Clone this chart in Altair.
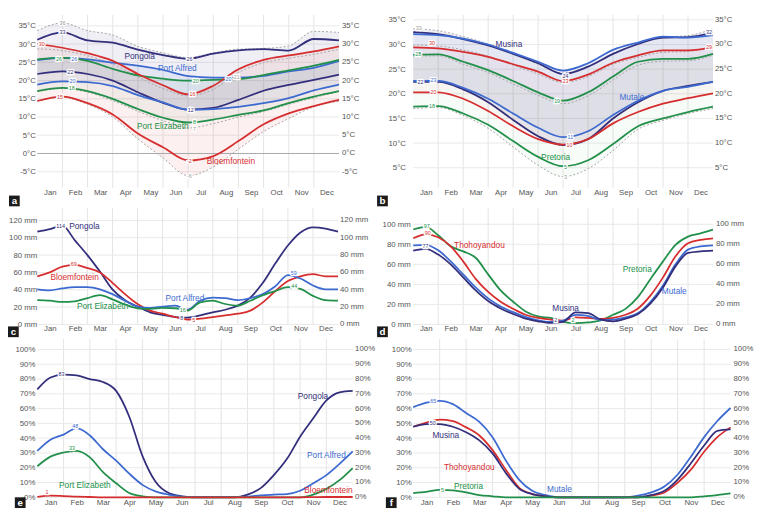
import altair as alt
import pandas as pd

FONT = "Liberation Sans"
MONTHS = ["Jan", "Feb", "Mar", "Apr", "May", "Jun", "Jul", "Aug", "Sep", "Oct", "Nov", "Dec"]
T13 = list(range(13))
T25 = [i / 2 for i in range(25)]

NAVY, BLUE, GREEN, RED, REF = "#332f7c", "#3d6ad0", "#22904a", "#d62e2f", "#9a9a9a"

# ---------------- panel a : temperature (°C), month boundaries 0..12
A_PONG_MAX = [31.2, 33.2, 31.0, 30.4, 28.5, 27.0, 26.0, 27.4, 28.3, 28.6, 28.2, 31.4, 31.0]
A_PONG_MIN = [21.8, 22.5, 21.8, 20.0, 16.8, 13.9, 12.0, 12.5, 14.7, 17.2, 18.8, 20.2, 21.6]
A_PA_MAX = [25.6, 26.2, 25.8, 24.9, 24.1, 22.9, 21.2, 20.8, 20.8, 21.3, 22.5, 23.5, 25.4]
A_PA_MIN = [18.9, 19.8, 19.6, 18.5, 16.0, 14.0, 12.0, 12.2, 12.8, 13.8, 15.2, 17.3, 18.9]
A_PE_MAX = [25.8, 26.2, 25.4, 23.2, 21.4, 20.5, 20.0, 20.2, 20.4, 21.5, 22.8, 24.1, 25.7]
A_PE_MIN = [17.1, 18.0, 17.1, 15.0, 12.2, 9.8, 8.5, 9.3, 10.6, 11.8, 13.8, 15.6, 17.1]
A_BL_MAX = [30.1, 29.0, 27.5, 25.4, 21.8, 18.7, 16.2, 18.6, 23.1, 25.7, 26.9, 28.0, 29.4]
A_BL_MIN = [14.4, 15.6, 13.8, 10.7, 5.5, 1.7, -1.9, -0.7, 3.4, 8.0, 11.0, 13.0, 14.7]
A_PONG_HI = [33.7, 35.8, 33.7, 32.5, 29.4, 27.6, 26.3, 27.6, 28.6, 28.8, 29.5, 33.5, 33.2]
A_BL_MAXD = [28.7, 28.2, 26.8, 24.5, 21.0, 17.8, 15.8, 17.6, 22.2, 24.9, 26.1, 27.2, 28.6]
A_PE_LO = [17.0, 17.8, 16.8, 14.5, 11.6, 9.0, 7.0, 8.2, 10.0, 11.5, 13.5, 15.3, 17.0]
A_BL_LO = [14.4, 15.4, 13.5, 10.0, 4.0, -1.2, -6.1, -3.7, 1.2, 6.0, 9.6, 12.8, 14.3]
A_NUMS = [
    (1.0, 35.9, "36", "ref"), (1.0, 33.2, "33", "Pongola"), (0.18, 30.0, "30", "Bloemfontein"),
    (0.86, 26.0, "26", "Port Elizabeth"), (1.47, 26.0, "26", "Port Alfred"), (1.32, 22.4, "22", "Pongola"),
    (1.4, 19.8, "20", "Port Alfred"), (1.37, 18.0, "18", "Port Elizabeth"), (0.9, 15.6, "15", "Bloemfontein"),
    (6.05, 26.0, "26", "Pongola"), (6.3, 20.0, "20", "Port Elizabeth"), (6.17, 16.2, "16", "Bloemfontein"),
    (6.1, 12.0, "12", "Pongola"), (6.25, 8.6, "8", "Port Elizabeth"), (6.25, 6.8, "7", "ref"),
    (6.05, -2.0, "-2", "Bloemfontein"), (6.05, -6.2, "-6", "ref"), (7.6, 20.5, "20", "Port Alfred"),
    (7.93, 20.9, "21", "ref"),
]
A_NAMES = [
    (4.07, 26.7, "Pongola", "Pongola"), (5.57, 23.5, "Port Alfred", "Port Alfred"),
    (4.99, 7.5, "Port Elizabeth", "Port Elizabeth"), (7.7, -2.1, "Bloemfontein", "Bloemfontein"),
]

# ---------------- panel b : temperature (°C)
B_MUS_MAX = [32.5, 32.1, 31.1, 29.8, 28.1, 26.2, 24.0, 25.5, 28.1, 30.1, 31.4, 31.5, 32.4]
B_MUT_MAX = [32.1, 31.9, 31.2, 30.0, 28.3, 26.5, 24.7, 26.2, 28.9, 30.4, 31.6, 31.4, 31.9]
B_THO_MAX = [29.4, 29.2, 28.5, 27.5, 26.0, 24.5, 22.6, 23.9, 26.3, 27.8, 28.8, 28.8, 29.4]
B_PRE_MAX = [27.9, 28.0, 26.5, 24.8, 22.6, 20.3, 18.6, 20.3, 23.5, 26.5, 27.1, 27.1, 28.1]
B_MUS_MIN = [22.4, 22.4, 20.9, 18.3, 14.7, 11.4, 9.6, 10.8, 15.0, 18.3, 20.6, 21.6, 22.4]
B_MUT_MIN = [22.6, 22.6, 21.2, 19.0, 16.0, 13.1, 11.2, 12.4, 15.7, 18.6, 20.6, 21.4, 22.4]
B_THO_MIN = [20.3, 20.3, 19.0, 16.5, 13.4, 10.8, 9.7, 10.8, 14.0, 16.3, 18.0, 19.1, 20.1]
B_PRE_MIN = [17.4, 17.5, 16.0, 13.7, 10.4, 7.2, 5.3, 6.5, 9.8, 13.4, 15.0, 16.3, 17.4]
B_MUS_HI = [33.2, 32.8, 31.6, 30.1, 28.2, 26.0, 24.2, 25.6, 28.2, 30.2, 31.5, 31.8, 33.2]
B_THO_MAXD = [29.9, 29.7, 28.9, 27.6, 25.8, 24.0, 22.3, 23.5, 26.0, 27.4, 28.4, 28.6, 29.6]
B_PRE_MAXD = [27.6, 27.7, 26.0, 24.3, 22.0, 19.7, 18.0, 19.6, 22.8, 25.8, 26.6, 26.7, 27.8]
B_PRE_LO = [17.0, 17.2, 15.6, 13.0, 9.2, 5.5, 3.2, 4.8, 8.5, 12.8, 14.6, 16.0, 17.0]
B_NUMS = [
    (0.22, 33.3, "33", "ref"), (11.84, 32.6, "32", "Musina"), (0.75, 30.3, "30", "Thohoyandou"),
    (11.84, 29.5, "29", "Thohoyandou"), (0.2, 28.0, "28", "Pretoria"), (0.29, 22.4, "22", "Musina"),
    (0.81, 22.8, "23", "Mutale"), (0.81, 20.4, "20", "Thohoyandou"), (0.75, 17.6, "18", "Pretoria"),
    (6.1, 23.7, "24", "Musina"), (6.1, 22.5, "23", "Thohoyandou"), (5.76, 18.5, "19", "Pretoria"),
    (6.29, 11.2, "11", "Mutale"), (6.26, 9.6, "10", "Thohoyandou"), (6.1, 5.2, "5", "Pretoria"),
    (6.1, 3.1, "3", "ref"),
]
B_NAMES = [(3.83, 30.1, "Musina", "Musina"), (8.75, 19.3, "Mutale", "Mutale"), (5.7, 7.2, "Pretoria", "Pretoria")]

# ---------------- panel c : precipitation (mm), half-month steps
C_PONG = [107, 110, 114, 97, 80, 61, 40.5, 28, 20.6, 14, 11, 8.6, 8, 10.5, 14, 17, 21.7, 31, 48, 70.5, 91, 106, 112, 110.6, 107]
C_BLOEM = [55.5, 60, 66.7, 68.6, 65, 60, 48, 35, 23.6, 16, 12.4, 8.6, 5.6, 6.7, 8.6, 10.5, 12.4, 16, 25.5, 38.6, 50, 55.5, 58, 55.5, 55.5]
C_PA = [40.5, 39.4, 41.6, 43, 43, 40.5, 35, 27.4, 20.6, 19, 20.6, 21.7, 17, 27.4, 31, 30.4, 28, 30.4, 35, 44, 57, 53, 45, 40.5, 40.5]
C_PE = [28, 27.4, 26, 26.6, 30.4, 33.7, 29, 23, 18.7, 18, 19, 18.7, 16, 25.5, 27.4, 23.6, 21.7, 27.4, 33.7, 38.6, 43, 41, 33, 28, 27.4]
C_NUMS = [
    (0.93, 113.5, "114", "Pongola"), (1.45, 69.5, "69", "Bloemfontein"), (10.23, 59, "59", "Port Alfred"),
    (10.25, 44, "44", "Port Elizabeth"), (5.8, 16.9, "16", "Port Elizabeth"), (5.76, 7.9, "8", "Pongola"),
    (6.24, 4.9, "5", "Bloemfontein"),
]
C_NAMES = [
    (1.88, 112.9, "Pongola", "Pongola"), (1.49, 54.4, "Bloemfontein", "Bloemfontein"),
    (5.89, 30, "Port Alfred", "Port Alfred"), (2.61, 21.7, "Port Elizabeth", "Port Elizabeth"),
]

# ---------------- panel d : precipitation (mm)
D_PRE = [94.8, 97.4, 89, 78, 73, 66.6, 50, 34, 22.7, 13, 8, 6.5, 2.6, 1.3, 2, 4, 9.7, 15.6, 27.6, 45.5, 63, 79.5, 87.7, 91, 94.8]
D_THO = [86, 90, 87, 78, 63, 45.5, 32.5, 22.7, 15.6, 9.7, 6.5, 4.9, 3.9, 7.1, 6.5, 5.5, 6.5, 9.7, 16, 29, 47, 68, 81, 84.4, 86]
D_MUT = [79, 79.5, 74, 63, 50, 37, 26, 17.9, 12.3, 7.5, 4.2, 2.6, 3.9, 9.5, 8.5, 4.5, 4.9, 7.1, 11.4, 22.7, 39, 60, 74.7, 78, 79]
D_MUS = [73.7, 75.5, 69.8, 60, 47, 34, 23.4, 16, 10.4, 5.8, 3.2, 1.6, 2.6, 12, 11.4, 5, 3.2, 5.8, 10.4, 21, 37, 58, 71.4, 73, 73.7]
D_NUMS = [
    (0.54, 98, "97", "Pretoria"), (0.58, 91, "90", "Thohoyandou"), (0.49, 78, "77", "Musina"),
    (5.7, 4.9, "2", "Musina"), (6.4, 4.2, "2", "Pretoria"),
]
D_NAMES = [
    (2.65, 78.9, "Thohoyandou", "Thohoyandou"), (8.97, 55.2, "Pretoria", "Pretoria"),
    (10.45, 33.1, "Mutale", "Mutale"), (6.1, 16.2, "Musina", "Musina"),
]

# ---------------- panel e : share of days (%)
E_PONG = [73, 81, 83, 82.4, 80, 78, 72, 54.5, 28, 10.5, 2.9, 0.7, 0, 0, 0, 0, 1.8, 6.2, 15, 26, 41, 53.4, 65.5, 71, 72]
E_PA = [31.4, 39, 42.4, 46.8, 41.8, 32.5, 24.8, 16, 8.4, 4, 1.8, 0.4, 0.2, 0.2, 0.2, 0.2, 0.4, 1.3, 1.8, 2.2, 4.4, 9.5, 15, 22.6, 31]
E_PE = [21, 27.5, 30.3, 31.4, 27, 17, 9.5, 2.9, 0.7, 0, 0, 0, 0, 0, 0, 0, 0, 0, 0, 0, 0, 1.8, 5.7, 11.6, 19.8]
E_BL = [0.3, 1.1, 0.8, 0.4, 0.2, 0, 0, 0, 0, 0, 0, 0, 0, 0, 0, 0, 0, 0, 0, 0, 0, 0.1, 0.2, 0.2, 0.2]
E_NUMS = [
    (0.92, 83.5, "83", "Pongola"), (1.44, 48, "48", "Port Alfred"), (1.32, 33, "33", "Port Elizabeth"),
    (0.37, 3.3, "1", "Bloemfontein"),
]
E_NAMES = [
    (10.49, 68.4, "Pongola", "Pongola"), (11.0, 28.6, "Port Alfred", "Port Alfred"),
    (1.81, 8.4, "Port Elizabeth", "Port Elizabeth"), (11.08, 5.1, "Bloemfontein", "Bloemfontein"),
]

# ---------------- panel f : share of days (%)
F_MUT = [61, 64, 65.3, 63, 57, 51, 40.7, 25, 12, 4.4, 1.5, 0, 0, 0, 0, 0, 0, 1.1, 3.3, 7.3, 15.4, 27.5, 40.7, 51.6, 60.4]
F_THO = [47.7, 50.5, 52.5, 51.6, 47.3, 41.8, 31.9, 18.7, 6.6, 2.2, 0.7, 0, 0, 0, 0, 0, 0, 0, 1.1, 3.3, 9.9, 18.7, 30.8, 40.7, 47.3]
F_MUS = [47.7, 49.5, 49.5, 47.7, 44, 38.5, 29.7, 16.5, 5.9, 2.2, 0.7, 0, 0, 0, 0, 0, 0, 0, 1.5, 4.4, 12, 23, 35, 45, 46]
F_PRE = [2.9, 3.7, 5, 4.6, 3.3, 1.5, 0.7, 0, 0, 0, 0, 0, 0, 0, 0, 0, 0, 0, 0, 0, 0, 0, 0.7, 1.5, 2.6]
F_NUMS = [(0.76, 65.3, "65", "Mutale"), (0.74, 49.9, "50", "Musina"), (1.11, 5.1, "5", "Pretoria")]
F_NAMES = [
    (1.23, 41.8, "Musina", "Musina"), (2.12, 20.4, "Thohoyandou", "Thohoyandou"),
    (2.09, 7.3, "Pretoria", "Pretoria"), (5.53, 5.5, "Mutale", "Mutale"),
]

SOUTH = ["Pongola", "Port Alfred", "Port Elizabeth", "Bloemfontein"]
SOUTH_COL = [NAVY, BLUE, GREEN, RED]
NORTH = ["Musina", "Mutale", "Thohoyandou", "Pretoria"]
NORTH_COL = [NAVY, BLUE, RED, GREEN]

MONTH_EXPR = "[" + ",".join("'%s'" % m for m in MONTHS) + "][floor(datum.value)]"


def panel(letter, t, solid, dotted, bands, nums, names, stations, colours, ydom, yticks, suffix,
          W, H, L, B, xpad, lpad, rpad, box_y, zero=False):
    xs = alt.Scale(domain=[0, 12], nice=False, zero=False)
    ys = alt.Scale(domain=ydom, nice=False, zero=False)
    cs = alt.Scale(domain=stations + ["ref"], range=colours + [REF])
    common = dict(grid=False, ticks=False, tickSize=0, domain=False, title=None, labelFlush=False,
                  labelFont=FONT, labelFontSize=8, labelColor="#555555")
    xaxis = alt.Axis(orient="bottom", values=[i + 0.5 for i in range(12)], labelExpr=MONTH_EXPR,
                     labelPadding=xpad, minExtent=B, maxExtent=B, labelAngle=0, **common)
    yexpr = "datum.value + '%s'" % suffix
    laxis = alt.Axis(orient="left", values=yticks, labelExpr=yexpr, labelPadding=lpad,
                     minExtent=L, maxExtent=L, **common)

    def X():
        return alt.X("t:Q", scale=xs, axis=xaxis)

    def Y(f="v"):
        return alt.Y(f + ":Q", scale=ys, axis=laxis)

    C = alt.Color("station:N", scale=cs, legend=None)

    layers = []
    layers.append(alt.Chart(pd.DataFrame({"t": T13[1:12]})).mark_rule(color="#e3e3e3", strokeWidth=1)
                  .encode(x=X()))
    hdf = pd.DataFrame({"v": yticks, "lab": [str(v) + suffix for v in yticks]})
    layers.append(alt.Chart(hdf).mark_rule(color="#e8e8e8", strokeWidth=1).encode(y=Y()))
    # right-hand copy of the value labels, placed by the same y scale
    layers.append(alt.Chart(hdf).mark_text(align="left", baseline="middle", fontSize=8, font=FONT,
                                           color="#555555")
                  .encode(y=Y(), x=alt.value(W + rpad), text="lab:N"))

    if bands:
        rows = []
        for station, hi, lo, op in bands:
            for ti, h, l in zip(t, hi, lo):
                rows.append(dict(t=ti, hi=h, lo=l, station=station, op=op))
        layers.append(alt.Chart(pd.DataFrame(rows)).mark_area(interpolate="monotone").encode(
            x=X(), y=Y("hi"), y2="lo:Q", color=C, detail="station:N",
            opacity=alt.Opacity("op:Q", scale=None)))
    if zero:
        layers.append(alt.Chart(pd.DataFrame({"v": [0]})).mark_rule(color="#a8a8a8", strokeWidth=1)
                      .encode(y=Y()))
    if dotted:
        rows = []
        for name, vals in dotted:
            for ti, v in zip(t, vals):
                rows.append(dict(t=ti, v=v, series=name))
        layers.append(alt.Chart(pd.DataFrame(rows)).mark_line(
            strokeWidth=1, strokeDash=[2, 2], color="#a5a5a5", interpolate="monotone").encode(
            x=X(), y=Y(), detail="series:N"))
    rows = []
    for station, kind, vals in solid:
        for ti, v in zip(t, vals):
            rows.append(dict(t=ti, v=v, station=station, series=station + kind))
    layers.append(alt.Chart(pd.DataFrame(rows)).mark_line(strokeWidth=1.8, interpolate="monotone").encode(
        x=X(), y=Y(), color=C, detail="series:N"))

    ndf = pd.DataFrame([dict(t=a, v=b, text=c, station=d) for a, b, c, d in nums])
    layers.append(alt.Chart(ndf).mark_text(fontSize=5.5, font=FONT, stroke="white", strokeWidth=2.5,
                                           fill="white").encode(x=X(), y=Y(), text="text:N"))
    layers.append(alt.Chart(ndf).mark_text(fontSize=5.5, font=FONT).encode(
        x=X(), y=Y(), text="text:N", color=C))
    mdf = pd.DataFrame([dict(t=a, v=b, text=c, station=d) for a, b, c, d in names])
    layers.append(alt.Chart(mdf).mark_text(fontSize=8.5, font=FONT).encode(
        x=X(), y=Y(), text="text:N", color=C))

    ldf = pd.DataFrame({"letter": [letter]})
    layers.append(alt.Chart(ldf).mark_rect(color="#1b1b1b").encode(
        x=alt.value(-L), x2=alt.value(-L + 11), y=alt.value(box_y), y2=alt.value(box_y + 11)))
    layers.append(alt.Chart(ldf).mark_text(color="white", fontSize=10, fontWeight="bold", font=FONT).encode(
        x=alt.value(-L + 5.5), y=alt.value(box_y + 6), text="letter:N"))

    return alt.layer(*layers).properties(width=W, height=H)


H1, H2, H3 = 177, 119, 162

pa = panel("a", T13,
           [("Pongola", "max", A_PONG_MAX), ("Pongola", "min", A_PONG_MIN),
            ("Port Alfred", "max", A_PA_MAX), ("Port Alfred", "min", A_PA_MIN),
            ("Port Elizabeth", "max", A_PE_MAX), ("Port Elizabeth", "min", A_PE_MIN),
            ("Bloemfontein", "max", A_BL_MAX), ("Bloemfontein", "min", A_BL_MIN)],
           [("pong_hi", A_PONG_HI), ("bl_maxd", A_BL_MAXD), ("pe_lo", A_PE_LO), ("bl_lo", A_BL_LO)],
           [("Pongola", A_PONG_HI, A_PONG_MIN, 0.08), ("Port Alfred", A_PA_MAX, A_PA_MIN, 0.07),
            ("Port Elizabeth", A_PE_MAX, A_PE_MIN, 0.05), ("Bloemfontein", A_BL_MAX, A_BL_LO, 0.07)],
           A_NUMS, A_NAMES, SOUTH, SOUTH_COL, [-9.4, 38], [-5, 0, 5, 10, 15, 20, 25, 30, 35], "°C",
           W=309, H=H1, L=29, B=20, xpad=0.5, lpad=2, rpad=3, box_y=H1 + 8, zero=True)

pb = panel("b", T13,
           [("Musina", "max", B_MUS_MAX), ("Musina", "min", B_MUS_MIN),
            ("Mutale", "max", B_MUT_MAX), ("Mutale", "min", B_MUT_MIN),
            ("Thohoyandou", "max", B_THO_MAX), ("Thohoyandou", "min", B_THO_MIN),
            ("Pretoria", "max", B_PRE_MAX), ("Pretoria", "min", B_PRE_MIN)],
           [("mus_hi", B_MUS_HI), ("tho_maxd", B_THO_MAXD), ("pre_maxd", B_PRE_MAXD), ("pre_lo", B_PRE_LO)],
           [("Musina", B_MUS_HI, B_MUS_MIN, 0.08), ("Mutale", B_MUT_MAX, B_MUT_MIN, 0.05),
            ("Thohoyandou", B_THO_MAX, B_THO_MIN, 0.03), ("Pretoria", B_PRE_MAX, B_PRE_LO, 0.03)],
           B_NUMS, B_NAMES, NORTH, NORTH_COL, [0.93, 36.0], [5, 10, 15, 20, 25, 30, 35], "°C",
           W=307, H=H1, L=37, B=20, xpad=0.5, lpad=8, rpad=2, box_y=H1 + 8)

pc = panel("c", T25,
           [("Pongola", "p", C_PONG), ("Bloemfontein", "p", C_BLOEM),
            ("Port Alfred", "p", C_PA), ("Port Elizabeth", "p", C_PE)],
           [], [], C_NUMS, C_NAMES, SOUTH, SOUTH_COL, [0, 134], [0, 20, 40, 60, 80, 100, 120], " mm",
           W=308, H=H2, L=30, B=14, xpad=0, lpad=0.5, rpad=2, box_y=H2 + 2)

pd_ = panel("d", T25,
            [("Pretoria", "p", D_PRE), ("Thohoyandou", "p", D_THO),
             ("Mutale", "p", D_MUT), ("Musina", "p", D_MUS)],
            [], [], D_NUMS, D_NAMES, NORTH, NORTH_COL, [0, 116], [0, 20, 40, 60, 80, 100], " mm",
            W=307, H=H2, L=37, B=14, xpad=0, lpad=3, rpad=3, box_y=H2 + 2)

pe = panel("e", T25,
           [("Pongola", "p", E_PONG), ("Port Alfred", "p", E_PA),
            ("Port Elizabeth", "p", E_PE), ("Bloemfontein", "p", E_BL)],
           [], [], E_NUMS, E_NAMES, SOUTH, SOUTH_COL, [0, 107], list(range(0, 101, 10)), "%",
           W=323, H=H3, L=23, B=11, xpad=1, lpad=2.5, rpad=2.5, box_y=H3)

pf = panel("f", T25,
           [("Mutale", "p", F_MUT), ("Thohoyandou", "p", F_THO),
            ("Musina", "p", F_MUS), ("Pretoria", "p", F_PRE)],
           [], [], F_NUMS, F_NAMES, NORTH, NORTH_COL, [0, 107], list(range(0, 101, 10)), "%",
           W=325, H=H3, L=28, B=11, xpad=1, lpad=2, rpad=3, box_y=H3)

chart = alt.concat(pa, pb, pc, pd_, pe, pf, columns=2, spacing={"row": 0, "column": 2},
                   align="each", bounds="full").resolve_scale(color="independent")
chart = chart.properties(padding=0, background="white")
chart = chart.configure(font=FONT).configure_view(strokeWidth=0)

chart.save("out.html", embed_options={"renderer": "svg", "actions": False})
